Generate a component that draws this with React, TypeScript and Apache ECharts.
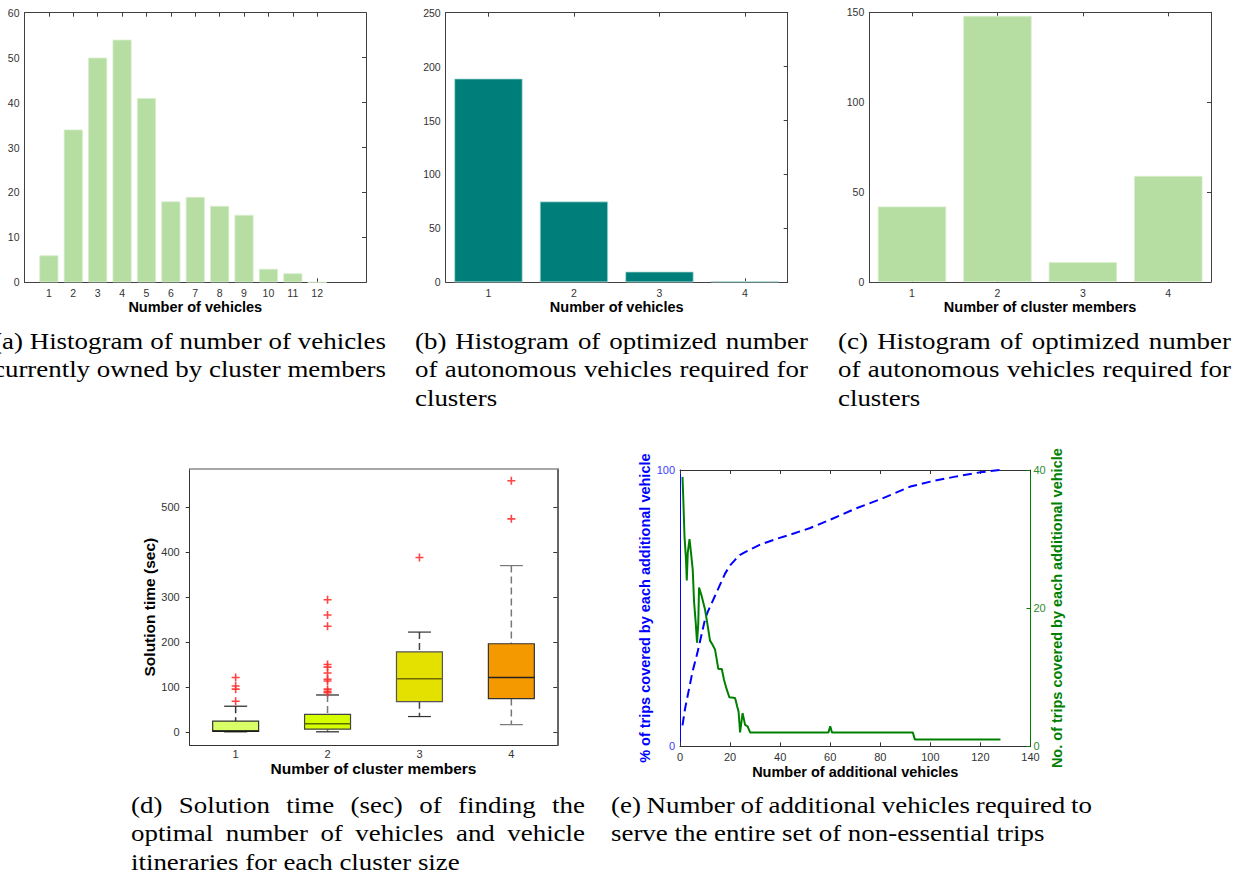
import React, { useEffect, useRef } from "react";
import * as echarts from "echarts";

// ---------- data ----------
const vehiclesOwnedBins = [1, 2, 3, 4, 5, 6, 7, 8, 9, 10, 11, 12];
const vehiclesOwnedCounts = [6, 34, 50, 54, 41, 18, 19, 17, 15, 3, 2, 0];

const avRequiredCats = ["1", "2", "3", "4"];
const avRequiredCounts = [189, 75, 10, 1];

const clusterMemberCats = ["1", "2", "3", "4"];
const clusterMemberCounts = [42, 148, 11, 59];

const boxGroups = [1, 2, 3, 4];
const boxLow = [0, 0, 34, 16];
const boxQ1 = [1, 6, 67, 74];
const boxMedian = [2, 18, 118, 121];
const boxQ3 = [24, 39, 178, 196];
const boxHigh = [57, 82, 222, 370];
const outliersG1 = [121, 102, 95, 68];
const outliersG2 = [294, 260, 235, 150, 144, 131, 117, 113, 95, 90, 87];
const outliersG3 = [388];
const outliersG4 = [474, 559];
const boxYTicks = [0, 100, 200, 300, 400, 500];

const coverageX = [1, 2, 3, 4, 5, 6, 7, 8, 9, 10, 11, 12, 14, 16, 18, 20, 22, 24, 26, 28, 32, 39, 46, 52, 60, 70, 80, 92, 100, 110, 120, 128];
const coverageY = [7.6, 13.5, 18, 22.5, 27, 30.5, 34, 38, 42, 46, 48.5, 50.5, 54.5, 58.5, 62.5, 65.5, 67.5, 69.3, 70.3, 71.2, 73, 75.2, 77.2, 79, 82, 86, 89.4, 94, 95.8, 97.6, 99.2, 100];

const tripsX = [1, 1.3, 1.8, 2.4, 2.7, 3.1, 3.8, 4.4, 5.1, 5.6, 6.3, 6.8, 7.3, 7.6, 8.7, 10, 10.9, 12, 13, 14, 14.7, 15.3, 16.7, 17.6, 18.7, 19.7, 22, 22.9, 23.4, 24, 25, 26, 27, 28, 59.3, 60, 60.7, 93, 93.8, 128];
const tripsY = [39, 36, 30.4, 27, 24, 28, 30, 28, 25.5, 21, 17.8, 15, 17.8, 23, 21.7, 19.8, 17.8, 15.3, 14.7, 14, 12.5, 11.2, 11.2, 9.6, 8.2, 7.1, 7, 5.7, 5, 2, 4.8, 3.1, 2.9, 2, 2, 2.9, 2, 2, 1, 1];

const captionA = ["(a) Histogram of number of vehicles", "currently owned by cluster members"];
const captionB = ["(b) Histogram of optimized number", "of autonomous vehicles required for", "clusters"];
const captionC = ["(c) Histogram of optimized number", "of autonomous vehicles required for", "clusters"];
const captionD = ["(d) Solution time (sec) of finding the", "optimal number of vehicles and vehicle", "itineraries for each cluster size"];
const captionE = ["(e) Number of additional vehicles required to", "serve the entire set of non-essential trips"];

// ---------- styles ----------
const FRAME = "#404040";
const SANS = "Liberation Sans";
const tickFont = { fontFamily: SANS, fontSize: 10.5, color: "#333" };
const nameFont = { fontFamily: SANS, fontSize: 14.5, fontWeight: "bold" as const, color: "#000" };
const LIGHT_GREEN = "#b6dda2";
const TEAL = "#007f7a";
const BOX_FILL = ["#d9ff66", "#d5ff00", "#e4e000", "#f59900"];
const BOX_STROKE = ["#333", "#444", "#555", "#333"];
const BOX_MED = ["#111", "#5e6b00", "#6e6a00", "#222"];
const BOX_WHISK = ["#333", "#777", "#444", "#777"];
const BOX_CAP = ["#222", "#222", "#333", "#777"];
const BOX_W = 0.5;
const CAP_W = 0.25;

const CAP_FONT = "Liberation Serif";
const CAP_SIZE = 23;
const CAP_SCALE = 1.17;
const CAP_LINE = 28.5;

function captionElements(lines: string[], left: number, width: number, yCenter: number) {
  const ctx = document.createElement("canvas").getContext("2d")!;
  ctx.font = `${CAP_SIZE}px "${CAP_FONT}"`;
  const els: any[] = [];
  lines.forEach((line, li) => {
    const words = line.split(" ");
    const widths = words.map((w) => ctx.measureText(w).width * CAP_SCALE);
    const total = widths.reduce((a, b) => a + b, 0);
    const last = li === lines.length - 1;
    const gap = last || words.length < 2
      ? ctx.measureText(" ").width * CAP_SCALE
      : (width - total) / (words.length - 1);
    let x = left;
    words.forEach((w, wi) => {
      els.push({
        type: "text",
        x,
        y: yCenter + li * CAP_LINE,
        scaleX: CAP_SCALE,
        silent: true,
        style: {
          text: w,
          fontFamily: CAP_FONT,
          fontSize: CAP_SIZE,
          fill: "#000",
          textAlign: "left",
          textVerticalAlign: "middle",
          align: "left",
          verticalAlign: "middle",
        },
      });
      x += widths[wi] + gap;
    });
  });
  return els;
}

function frameX(gridIndex: number, extra: any) {
  return {
    gridIndex,
    splitLine: { show: false },
    axisLine: { show: true, onZero: false, lineStyle: { color: FRAME, width: 1 } },
    ...extra,
  };
}

function buildOption() {
  const histAData = vehiclesOwnedBins.map((b, i) => [b, vehiclesOwnedCounts[i]]);
  const boxData = boxGroups.map((g, i) => [g, boxLow[i], boxQ1[i], boxMedian[i], boxQ3[i], boxHigh[i]]);
  const outlierData = [
    ...outliersG1.map((v) => [1, v]),
    ...outliersG2.map((v) => [2, v]),
    ...outliersG3.map((v) => [3, v]),
    ...outliersG4.map((v) => [4, v]),
  ];
  const coverageData = coverageX.map((x, i) => [x, coverageY[i]]);
  const tripsData = tripsX.map((x, i) => [x, tripsY[i]]);

  const grids = [
    { left: 24.5, top: 12.7, width: 341.5, height: 269.6 },
    { left: 445.7, top: 12.7, width: 342, height: 269.6 },
    { left: 869.3, top: 12.3, width: 341.7, height: 269.7 },
    { left: 189.7, top: 469, width: 367.6, height: 276.3 },
    { left: 680, top: 470, width: 350.5, height: 276.3 },
  ].map((g) => ({ ...g, containLabel: false, outerBoundsMode: "none" }));

  const insideTick = { show: true, inside: true, length: 4, lineStyle: { color: FRAME } };

  const xAxis: any[] = [
    // a
    frameX(0, {
      type: "value", min: 0, max: 14, position: "bottom",
      axisTick: { ...insideTick, customValues: vehiclesOwnedBins },
      axisLabel: { ...tickFont, margin: 5, customValues: vehiclesOwnedBins },
      name: "Number of vehicles", nameLocation: "middle", nameGap: 17, nameTextStyle: nameFont,
    }),
    frameX(0, {
      type: "value", min: 0, max: 14, position: "top",
      axisTick: { ...insideTick, customValues: vehiclesOwnedBins },
      axisLabel: { show: false },
    }),
    // b
    frameX(1, {
      type: "category", data: avRequiredCats, boundaryGap: true, position: "bottom",
      axisTick: { ...insideTick, alignWithLabel: true },
      axisLabel: { ...tickFont, margin: 5 },
      name: "Number of vehicles", nameLocation: "middle", nameGap: 17, nameTextStyle: nameFont,
    }),
    frameX(1, {
      type: "category", data: avRequiredCats, boundaryGap: true, position: "top",
      axisTick: { ...insideTick, alignWithLabel: true },
      axisLabel: { show: false },
    }),
    // c
    frameX(2, {
      type: "category", data: clusterMemberCats, boundaryGap: true, position: "bottom",
      axisTick: { ...insideTick, alignWithLabel: true },
      axisLabel: { ...tickFont, margin: 5 },
      name: "Number of cluster members", nameLocation: "middle", nameGap: 17, nameTextStyle: nameFont,
    }),
    frameX(2, {
      type: "category", data: clusterMemberCats, boundaryGap: true, position: "top",
      axisTick: { ...insideTick, alignWithLabel: true },
      axisLabel: { show: false },
    }),
    // d
    frameX(3, {
      type: "value", min: 0.5, max: 4.5, position: "bottom",
      axisLine: { show: true, onZero: false, lineStyle: { color: "#333", width: 1 } },
      axisTick: { show: false },
      axisLabel: { ...tickFont, fontSize: 11, margin: 3, customValues: boxGroups },
      name: "Number of cluster members", nameLocation: "middle", nameGap: 13,
      nameTextStyle: { ...nameFont, fontSize: 15.5 },
    }),
    frameX(3, {
      type: "value", min: 0.5, max: 4.5, position: "top",
      axisLine: { show: true, onZero: false, lineStyle: { color: "#8a8a8a", width: 1.5 } },
      axisTick: { show: false }, axisLabel: { show: false },
    }),
    // e
    frameX(4, {
      type: "value", min: 0, max: 140, interval: 20, position: "bottom",
      axisLine: { show: true, onZero: false, lineStyle: { color: "#333", width: 1 } },
      axisTick: { ...insideTick, lineStyle: { color: "#333" } },
      axisLabel: { ...tickFont, fontSize: 11, margin: 5, showMinLabel: true, showMaxLabel: true },
      name: "Number of additional vehicles", nameLocation: "middle", nameGap: 18, nameTextStyle: nameFont,
    }),
    frameX(4, {
      type: "value", min: 0, max: 140, interval: 20, position: "top",
      axisLine: { show: true, onZero: false, lineStyle: { color: "#333", width: 1 } },
      axisTick: { ...insideTick, lineStyle: { color: "#333" } },
      axisLabel: { show: false },
    }),
  ];

  const yAxis: any[] = [
    // a
    frameX(0, {
      type: "value", min: 0, max: 60, interval: 10, position: "left",
      axisTick: { show: false },
      axisLabel: { ...tickFont, margin: 5 },
    }),
    frameX(0, {
      type: "value", min: 0, max: 60, interval: 10, position: "right",
      axisTick: insideTick, axisLabel: { show: false },
    }),
    // b
    frameX(1, {
      type: "value", min: 0, max: 250, interval: 50, position: "left",
      axisTick: { show: false },
      axisLabel: { ...tickFont, margin: 5 },
    }),
    frameX(1, {
      type: "value", min: 0, max: 250, interval: 50, position: "right",
      axisTick: insideTick, axisLabel: { show: false },
    }),
    // c
    frameX(2, {
      type: "value", min: 0, max: 150, interval: 50, position: "left",
      axisTick: { show: false },
      axisLabel: { ...tickFont, margin: 5 },
    }),
    frameX(2, {
      type: "value", min: 0, max: 150, interval: 50, position: "right",
      axisTick: insideTick, axisLabel: { show: false },
    }),
    // d
    frameX(3, {
      type: "value", min: -30, max: 585, position: "left",
      axisLine: { show: true, onZero: false, lineStyle: { color: "#333", width: 1 } },
      axisTick: { show: true, inside: false, length: 4, customValues: boxYTicks, lineStyle: { color: "#333" } },
      axisLabel: { ...tickFont, fontSize: 11, margin: 10, customValues: boxYTicks },
      name: "Solution time (sec)", nameLocation: "middle", nameGap: 19, nameRotate: 90,
      nameTextStyle: { ...nameFont, fontSize: 15.5 },
    }),
    frameX(3, {
      type: "value", min: -30, max: 585, position: "right",
      axisLine: { show: true, onZero: false, lineStyle: { color: "#333", width: 1.5 } },
      axisTick: { show: true, inside: true, length: 4, customValues: boxYTicks, lineStyle: { color: "#333" } },
      axisLabel: { show: false },
    }),
    // e
    frameX(4, {
      type: "value", min: 0, max: 100, interval: 100, position: "left",
      axisLine: { show: true, onZero: false, lineStyle: { color: "#0000ff", width: 1 } },
      axisTick: { show: false },
      axisLabel: { ...tickFont, fontSize: 11, color: "#3b3bff", margin: 5 },
      name: "% of trips covered by each additional vehicle", nameLocation: "middle", nameGap: 22, nameRotate: 90,
      nameTextStyle: { ...nameFont, color: "#0000ff" },
    }),
    frameX(4, {
      type: "value", min: 0, max: 40, interval: 20, position: "right",
      axisLine: { show: true, onZero: false, lineStyle: { color: "#008000", width: 1 } },
      axisTick: { show: true, inside: true, length: 4, lineStyle: { color: "#008000" } },
      axisLabel: { ...tickFont, fontSize: 11, color: "#2e8b2e", margin: 3 },
      name: "No. of trips covered by each additional vehicle", nameLocation: "middle", nameGap: 15, nameRotate: 90,
      nameTextStyle: { ...nameFont, color: "#008000" },
    }),
  ];

  const series: any[] = [
    {
      type: "bar", xAxisIndex: 0, yAxisIndex: 0, data: histAData, barWidth: 19,
      itemStyle: { color: LIGHT_GREEN, borderColor: "#d7eecb", borderWidth: 0.8 },
    },
    {
      type: "bar", xAxisIndex: 2, yAxisIndex: 2, data: avRequiredCounts, barWidth: "80%",
      itemStyle: { color: TEAL, borderColor: "#bfe3e0", borderWidth: 0.8 },
    },
    {
      type: "bar", xAxisIndex: 4, yAxisIndex: 4, data: clusterMemberCounts, barWidth: "80%",
      itemStyle: { color: LIGHT_GREEN, borderColor: "#d7eecb", borderWidth: 0.8 },
    },
    {
      type: "custom", xAxisIndex: 6, yAxisIndex: 6, data: boxData,
      encode: { x: 0, y: [1, 2, 3, 4, 5] },
      renderItem: (params: any, api: any) => {
        const i = params.dataIndex;
        const x = api.value(0);
        const pLo = api.coord([x, api.value(1)]);
        const pQ1 = api.coord([x, api.value(2)]);
        const pMed = api.coord([x, api.value(3)]);
        const pQ3 = api.coord([x, api.value(4)]);
        const pHi = api.coord([x, api.value(5)]);
        const cx = pLo[0];
        const hb = api.size([BOX_W, 0])[0] / 2;
        const hc = api.size([CAP_W, 0])[0] / 2;
        const whisk = { stroke: BOX_WHISK[i], lineWidth: 1.5, lineDash: [7, 4] };
        const cap = { stroke: BOX_CAP[i], lineWidth: 1.2 };
        return {
          type: "group",
          children: [
            { type: "line", shape: { x1: cx, y1: pHi[1], x2: cx, y2: pQ3[1] }, style: whisk },
            { type: "line", shape: { x1: cx, y1: pQ1[1], x2: cx, y2: pLo[1] }, style: whisk },
            { type: "line", shape: { x1: cx - hc, y1: pHi[1], x2: cx + hc, y2: pHi[1] }, style: cap },
            { type: "line", shape: { x1: cx - hc, y1: pLo[1], x2: cx + hc, y2: pLo[1] }, style: cap },
            {
              type: "rect",
              shape: { x: cx - hb, y: pQ3[1], width: 2 * hb, height: pQ1[1] - pQ3[1] },
              style: { fill: BOX_FILL[i], stroke: BOX_STROKE[i], lineWidth: 1.2 },
            },
            {
              type: "line",
              shape: { x1: cx - hb, y1: pMed[1], x2: cx + hb, y2: pMed[1] },
              style: { stroke: BOX_MED[i], lineWidth: 1.5 },
            },
          ],
        };
      },
    },
    {
      type: "scatter", xAxisIndex: 6, yAxisIndex: 6, data: outlierData,
      symbol: "path://M3.2,0h1.6v8h-1.6zM0,3.2h8v1.6h-8z", symbolSize: 8,
      itemStyle: { color: "#ff3030", opacity: 0.9 },
    },
    {
      type: "line", xAxisIndex: 8, yAxisIndex: 8, data: coverageData, showSymbol: false, symbol: "none",
      lineStyle: { color: "#0000ff", width: 2, type: [9, 5] },
    },
    {
      type: "line", xAxisIndex: 8, yAxisIndex: 9, data: tripsData, showSymbol: false, symbol: "none",
      lineStyle: { color: "#008000", width: 2 },
    },
  ];

  const graphic = [
    ...captionElements(captionA, -7, 393, 341),
    ...captionElements(captionB, 415, 393, 341),
    ...captionElements(captionC, 838, 393, 341),
    ...captionElements(captionD, 131, 454, 805),
    ...captionElements(captionE, 611, 481, 805),
  ];

  return {
    animation: false,
    backgroundColor: "#ffffff",
    grid: grids,
    xAxis,
    yAxis,
    series,
    graphic,
  };
}

export default function App() {
  const ref = useRef<HTMLDivElement>(null);
  useEffect(() => {
    const chart = echarts.init(ref.current!, null, { renderer: "svg" });
    chart.setOption(buildOption() as any);
    return () => chart.dispose();
  }, []);
  return (
    <div
      ref={ref}
      style={{ position: "absolute", left: 0, top: 0, width: 1233, height: 875, background: "#fff" }}
    />
  );
}
